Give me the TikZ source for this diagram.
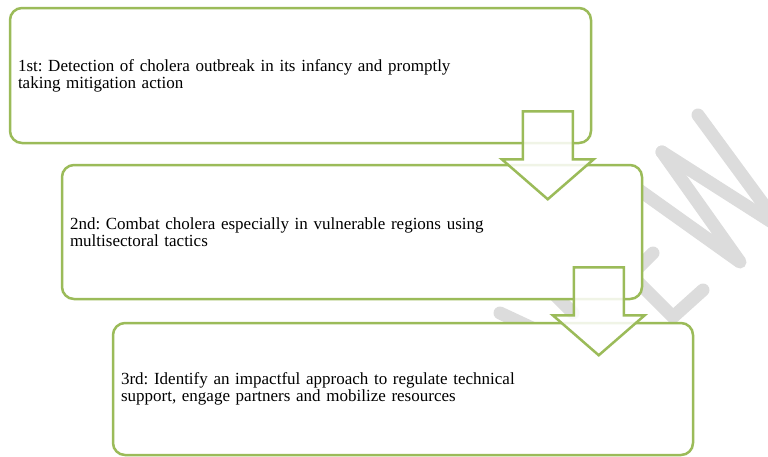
\documentclass[tikz,border=0pt]{standalone}
\usepackage{fontspec}
\setmainfont{Liberation Serif}
\usetikzlibrary{calc}
\definecolor{boxgreen}{HTML}{9BBB59}
\definecolor{wmgray}{HTML}{DCDCDC}
\newcommand{\downblock}[2]{\draw[blockarrow] ($(#1)+(-25,0)$) -- ++(50,0) -- ++(0,48) -- ++(21,0) -- ++(-46,40) coordinate (#2) -- ++(-46,-40) -- ++(21,0) -- cycle;}
\begin{document}
\frenchspacing
\begin{tikzpicture}[x=1pt,y=-1pt,
  stepbox/.style={draw=boxgreen, line width=2.5pt, rounded corners=12pt, fill=white,
    align=left, inner xsep=8pt, inner ysep=0pt, font=\fontsize{17}{17}\selectfont\frenchspacing},
  blockarrow/.style={draw=boxgreen, line width=2.5pt, fill=white, fill opacity=0.85, line join=miter},
  wm/.style={draw=wmgray, line width=13pt, line cap=round, line join=round}]
\useasboundingbox (0,0) rectangle (768,456);
% watermark
\begin{scope}
\clip (0,0) rectangle (768,456);
\draw[wm] (698,115) -- (800,254);
\draw[wm] (662,152) -- (800,240);
\draw[wm] (662,152) -- (740,262) -- (625,180);
\draw[wm] (590,234) -- (673,317) -- (703,290);
\draw[wm] (631,275) -- (653,253);
\draw[wm] (490,230) -- (573,313);
\draw[wm] (500,313) -- (560,341);
\end{scope}
% boxes
\node[stepbox, minimum width=581pt, minimum height=135pt, text width=565pt] (b1) at (300.5,75.5)
  {1st: Detection of cholera outbreak in its infancy and promptly\\taking mitigation action};
\node[stepbox, minimum width=580pt, minimum height=134pt, text width=564pt] (b2) at (352,232)
  {2nd: Combat cholera especially in vulnerable regions using\\multisectoral tactics};
\node[stepbox, minimum width=580pt, minimum height=132pt, text width=564pt] (b3) at (403,389)
  {3rd: Identify an impactful approach to regulate technical\\support, engage partners and mobilize resources};
% arrows
\coordinate (a1) at ($(b1.south east)+(-44.5,-33)$);
\coordinate (a2) at ($(b2.south east)+(-44.5,-33)$);
\downblock{a1}{t1}
\downblock{a2}{t2}
\end{tikzpicture}
\end{document}
